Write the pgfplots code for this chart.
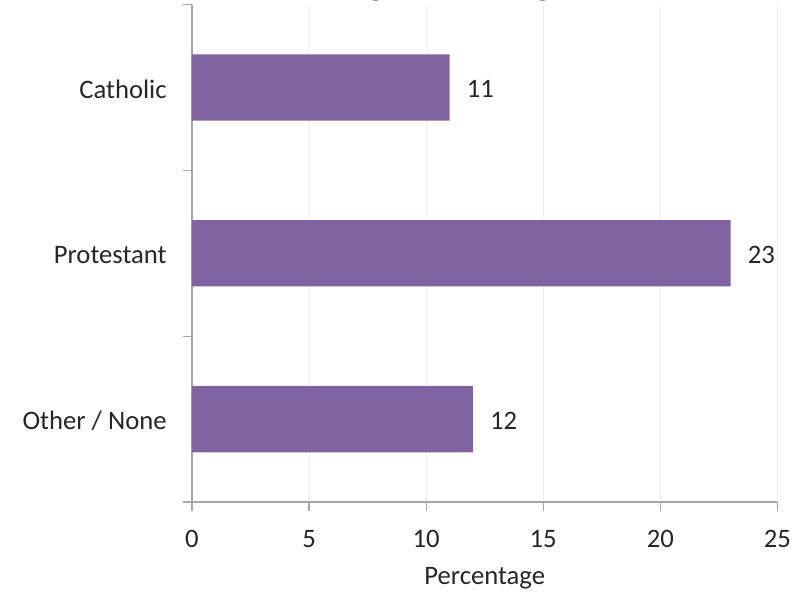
\documentclass[border=0pt]{standalone}
\usepackage{pgfplots}
\pgfplotsset{compat=1.18}
\usepackage{fontspec}
\setmainfont{Carlito}

\definecolor{barpurple}{HTML}{8064A2}
\definecolor{axisgray}{HTML}{A6A6A6}
\definecolor{gridgray}{HTML}{EDEDED}
\definecolor{labeltext}{HTML}{262626}

\pgfplotstableread{
pos value
0   12
1   23
2   11
}\religion

\begin{document}
\begin{tikzpicture}[x=1pt,y=1pt]
\begin{axis}[
  at={(0,0)}, anchor=south west,
  scale only axis,
  width=439pt, height=373pt,
  xbar, bar width=0.4,
  xmin=0, xmax=25,
  ymin=-0.5, ymax=2.5,
  axis x line*=bottom, axis y line*=left,
  axis line style={axisgray, line width=0.9pt, -},
  xtick={0,5,...,25},
  ytick={-0.5,0.5,1.5,2.5},
  yticklabels={},
  extra y ticks={0,1,2},
  extra y tick labels={Other / None, Protestant, Catholic},
  extra y tick style={major tick length=0pt, ytick style={draw=none},
    yticklabel style={xshift=-15.5pt, yshift=-1pt}},
  tick align=outside,
  major tick length=7pt,
  tick style={axisgray, line width=0.9pt},
  xmajorgrids,
  grid style={gridgray, line width=0.8pt},
  ticklabel style={font=\fontsize{20}{24}\selectfont, text=labeltext},
  /pgf/number format/assume math mode=true,
  xticklabel style={yshift=-10.5pt},
  xlabel={Percentage},
  xlabel style={font=\fontsize{20}{24}\selectfont, text=labeltext, yshift=-8pt},
  nodes near coords,
  every node near coord/.append style={font=\fontsize{20}{24}\selectfont,
    text=labeltext, anchor=west, inner sep=0pt, xshift=12.75pt, yshift=-1pt},
  clip=false,
]
\addplot[fill=barpurple, draw=none] table[x=value, y=pos] {\religion};
\end{axis}
% chart title, set above the page edge
\node[anchor=base, font=\fontsize{28.5}{34}\selectfont\bfseries, text=black]
  at (214.5pt,380.3pt) {Religious Background};
\pgfresetboundingbox
\path (-144pt,-67.5pt) rectangle (464.25pt,376.5pt);
\end{tikzpicture}
\end{document}
